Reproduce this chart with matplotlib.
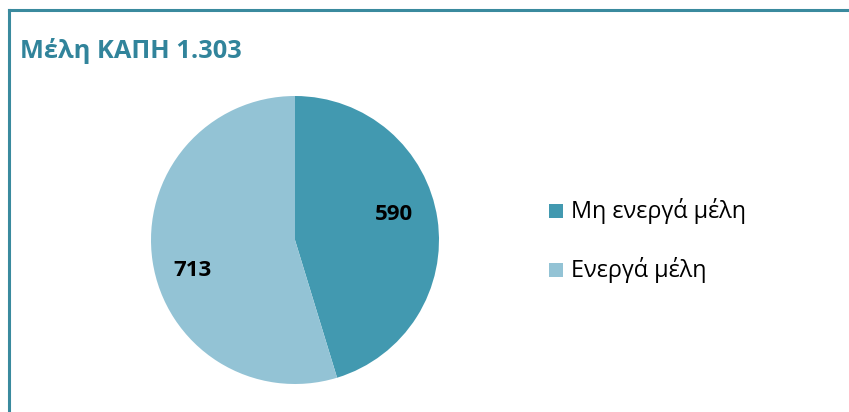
import matplotlib.pyplot as plt
from matplotlib.patches import Rectangle
from matplotlib.lines import Line2D

# Data
labels = ['Μη ενεργά μέλη', 'Ενεργά μέλη']
values = [590, 713]
colors = ['#4299B0', '#93C3D5']
title = 'Μέλη ΚΑΠΗ 1.303'

W, H = 849, 412
fig = plt.figure(figsize=(W / 100, H / 100), dpi=100)
plt.rcParams['font.family'] = ['Open Sans', 'DejaVu Sans']

# Frame lines (top and left)
fig.add_artist(Line2D([9 / W, 1], [1 - 10 / H, 1 - 10 / H], color='#3A8A9E', lw=2.2))
fig.add_artist(Line2D([9 / W, 9 / W], [0, 1 - 10 / H], color='#3A8A9E', lw=2.2))

fig.text(20 / W, 1 - 58 / H, title, fontsize=18.3, fontweight='bold', color='#31849B')

# Pie axes: center (295, 240), radius 144
r = 144
ax = fig.add_axes([(295 - r) / W, 1 - (240 + r) / H, 2 * r / W, 2 * r / H])
wedges, texts = ax.pie(values, colors=colors, startangle=90, counterclock=False,
                       wedgeprops=dict(linewidth=0))
ax.set_xlim(-1, 1)
ax.set_ylim(-1, 1)
ax.set_aspect('equal')

# Value labels
ax.text((394 - 295) / r, -(214 - 240) / r, str(values[0]), ha='center', va='center',
        fontsize=16, fontweight='bold', color='black')
ax.text((193 - 295) / r, -(270 - 240) / r, str(values[1]), ha='center', va='center',
        fontsize=16, fontweight='bold', color='black')

# Legend
leg_y = [211, 270]
for lab, col, y in zip(labels, colors, leg_y):
    fig.add_artist(Rectangle((549 / W, 1 - (y + 7) / H), 14 / W, 14 / H,
                             transform=fig.transFigure, facecolor=col, edgecolor='none'))
    fig.text(571 / W, 1 - y / H, lab, fontsize=16.8, va='center', color='black')

fig.savefig('out.png', dpi=100)
